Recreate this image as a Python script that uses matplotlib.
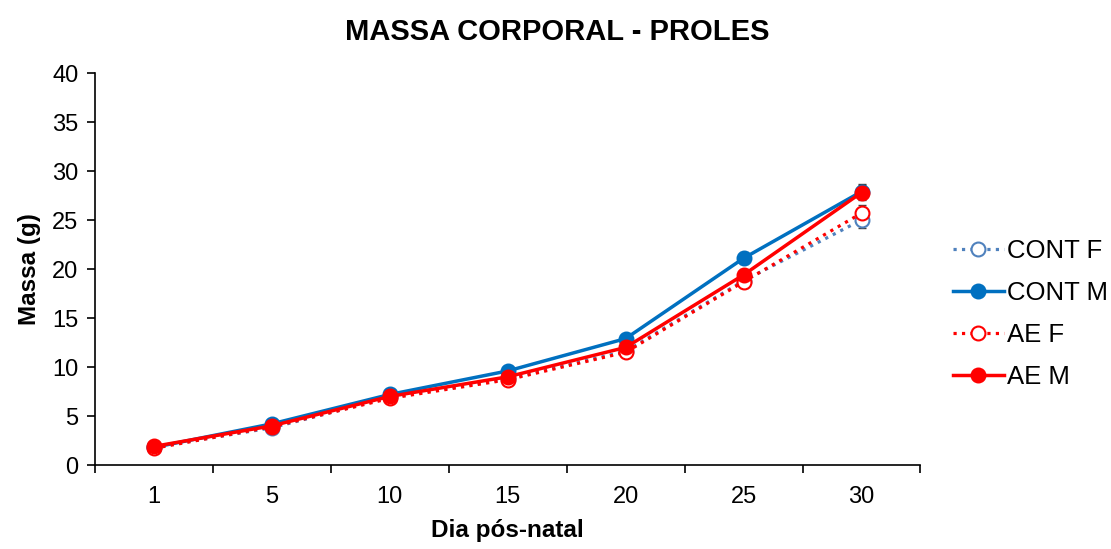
import numpy as np
import matplotlib.pyplot as plt

plt.rcParams['font.family'] = ['Liberation Sans', 'DejaVu Sans']

# dados
dias = ['1', '5', '10', '15', '20', '25', '30']
cont_f = [1.8, 3.8, 6.9, 8.8, 11.6, 18.8, 25.0]
cont_m = [1.8, 4.2, 7.2, 9.6, 12.9, 21.1, 27.9]
ae_f = [1.7, 3.9, 6.8, 8.7, 11.5, 18.7, 25.7]
ae_m = [1.9, 4.0, 7.0, 9.0, 12.0, 19.4, 27.8]
erro = [0.2, 0.3, 0.3, 0.4, 0.4, 0.6, 0.8]

x = np.arange(len(dias))

fig = plt.figure(figsize=(11.11, 5.49), dpi=100)
ax = fig.add_axes([0.0855, 0.153, 0.743, 0.714])

series = [
    ('CONT F', cont_f, '#4F81BD', ':', 'white'),
    ('CONT M', cont_m, '#0070C0', '-', '#0070C0'),
    ('AE F', ae_f, '#FF0000', ':', 'white'),
    ('AE M', ae_m, '#FF0000', '-', '#FF0000'),
]
for nome, vals, cor, estilo, face in series:
    ax.errorbar(x, vals, yerr=erro, fmt='none', ecolor='#404040', elinewidth=1.2,
                capsize=3, zorder=2)
    ax.plot(x, vals, linestyle=estilo, color=cor, linewidth=2.5 if estilo == '-' else 2.3,
            marker='o', markersize=10, markerfacecolor=face, markeredgecolor=cor,
            markeredgewidth=1.5, label=nome, zorder=3)

ax.set_xlim(-0.5, len(dias) - 0.5)
ax.set_ylim(0, 40)
ax.set_yticks(range(0, 41, 5))
ax.set_xticks(x)
ax.set_xticklabels(dias)
ax.set_xticks(np.arange(-0.5, len(dias), 1), minor=True)
ax.tick_params(axis='x', which='major', length=0, pad=15, labelsize=17)
ax.tick_params(axis='x', which='minor', length=6, width=1.2, direction='out')
ax.tick_params(axis='y', length=6, width=1.2, direction='out', labelsize=17, pad=6)

for s in ['top', 'right']:
    ax.spines[s].set_visible(False)
for s in ['left', 'bottom']:
    ax.spines[s].set_linewidth(1.2)

ax.set_xlabel('Dia pós-natal', fontsize=17.5, fontweight='bold', labelpad=8)
ax.set_ylabel('Massa (g)', fontsize=17.5, fontweight='bold', labelpad=8)
fig.text(0.502, 0.942, 'MASSA CORPORAL - PROLES', fontsize=21, fontweight='bold',
         ha='center', va='center')

ax.legend(loc='center left', bbox_to_anchor=(1.039, 0.385), frameon=False, fontsize=18.5,
          handlelength=2.0, handletextpad=0.1, labelspacing=0.7,
          borderpad=0, borderaxespad=0)

fig.savefig('out.png', dpi=100)
